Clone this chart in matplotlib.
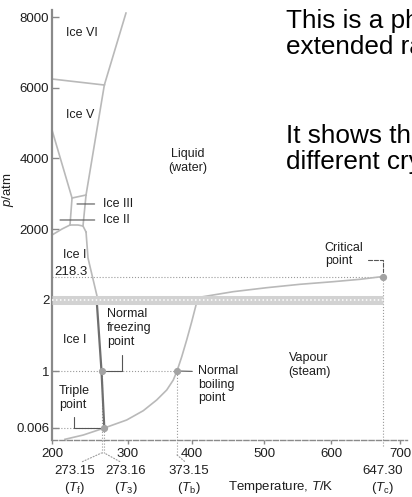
import numpy as np
import matplotlib
matplotlib.use('Agg')
import matplotlib.pyplot as plt

plt.rcParams['font.family'] = ['Liberation Sans', 'DejaVu Sans']
plt.rcParams['mathtext.fontset'] = 'custom'
plt.rcParams['mathtext.rm'] = 'Liberation Sans'
plt.rcParams['mathtext.it'] = 'Liberation Sans:italic'

# schematic (non-linear) axes of the original drawing: value -> offset in px
T_BREAKS = [200, 273.15, 273.16, 300, 373.15, 400, 500, 600, 647.3, 700, 710]
T_OFFSET = [0, 49.5, 52.3, 76, 125, 140, 212, 279, 331, 348, 355]
P_BREAKS = [0, 0.006, 1, 2, 218.3, 2000, 8000, 8200]
P_OFFSET = [0, 12, 69, 140, 163.5, 211, 423, 430]

# phase boundaries, T in K, p in atm
ice6_liquid_T = [273.2, 297.7]
ice6_liquid_p = [6075, 8113]
ice5_ice6_T = [200, 273.2]
ice5_ice6_p = [6245, 6075]
ice5_liquid_T = [273.2, 250.3]
ice5_liquid_p = [6075, 2962]
ice2_ice5_T = [200, 229.6]
ice2_ice5_p = [4802, 2877]
ice3_ice5_T = [229.6, 250.3]
ice3_ice5_p = [2877, 2962]
ice3_liquid_T = [250.3, 245.8]
ice3_liquid_p = [2962, 2085]
ice2_ice3_T = [229.6, 226.6]
ice2_ice3_p = [2877, 2113]
ice1_ice2_T = [200, 214.8, 226.6]
ice1_ice2_p = [1775, 2000, 2113]
ice1_ice3_T = [226.6, 238.4, 245.8, 250.3]
ice1_ice3_p = [2113, 2113, 2085, 1887]
melt_high_T = [250.3, 253.2, 266.5]
melt_high_p = [1887, 912, 38.8]
melt_low_T = [266.5, 273.15, 273.16]
melt_low_p = [1.93, 1.0, 0.006]
vap_low_T = [219.2, 246.3, 273.16, 298.5, 322.8, 342.8, 357.8, 367.6,
             373.15, 381.6, 390.5, 399.5, 405.6]
vap_low_p = [0.00035, 0.0025, 0.006, 0.1455, 0.3077, 0.4943, 0.6687, 0.843,
             1.0, 1.20, 1.437, 1.694, 1.93]
vap_high_T = [415.3, 457.0, 504.0, 553.7, 601.8, 626.4, 647.3]
vap_high_p = [32.4, 78.4, 115.2, 146.5, 170.4, 192.5, 218.3]

T_triple, p_triple = 273.16, 0.006
T_freeze, T_boil, p_normal = 273.15, 373.15, 1.0
T_crit, p_crit = 647.3, 218.3
p_break = 2

x_ticks = [200, 300, 400, 500, 600, 700]
y_ticks = [0.006, 1, 2, 2000, 4000, 6000, 8000]
y_tick_labels = ['0.006', '1', '2', '2000', '4000', '6000', '8000']

regions = [('Ice VI', 244.3, 7547), ('Ice V', 241.4, 5226),
           ('Liquid\n(water)', 392.8, 3924), ('Ice I', 234.0, 1025),
           ('Ice I', 234.0, 1.437), ('Vapour\n(steam)', 567.2, 1.085)]

# slide text next to the picture, as much as the crop shows
slide_lines = ['This is a pha', 'extended ra', 'It shows the', 'different cry']


def fx(t):
    return np.interp(t, T_BREAKS, T_OFFSET)


def ix(v):
    return np.interp(v, T_OFFSET, T_BREAKS)


def fy(p):
    return np.interp(p, P_BREAKS, P_OFFSET)


def iy(v):
    return np.interp(v, P_OFFSET, P_BREAKS)


CURVE = '#b9b9b9'
DARK = '#6e6e6e'
GUIDE = '#9a9a9a'
TXT = '#1e1e1e'
AXC = '#8a8a8a'

fig = plt.figure(figsize=(4.12, 4.97), dpi=100)
ax = fig.add_axes([52 / 412, 57 / 497, 355 / 412, 430 / 497])
ax.set_xscale('function', functions=(fx, ix))
ax.set_yscale('function', functions=(fy, iy))
ax.set_xlim(200, 710)
ax.set_ylim(0, 8200)

for T, p in [(ice6_liquid_T, ice6_liquid_p), (ice5_ice6_T, ice5_ice6_p),
             (ice5_liquid_T, ice5_liquid_p), (ice2_ice5_T, ice2_ice5_p),
             (ice3_ice5_T, ice3_ice5_p), (ice3_liquid_T, ice3_liquid_p),
             (ice2_ice3_T, ice2_ice3_p), (ice1_ice2_T, ice1_ice2_p),
             (ice1_ice3_T, ice1_ice3_p), (melt_high_T, melt_high_p),
             (vap_low_T, vap_low_p), (vap_high_T, vap_high_p)]:
    ax.plot(T, p, color=CURVE, lw=1.2, zorder=2, clip_on=False)
ax.plot(melt_low_T, melt_low_p, color=DARK, lw=1.6, zorder=2)

# axis break band at p = 2
ax.plot([200, T_crit], [p_break, p_break], color='#d2d2d2', lw=6.5,
        solid_capstyle='butt', zorder=3)
ax.plot([200, T_crit], [p_break, p_break], color='white', lw=1.1,
        ls=(0, (1, 1.6)), zorder=4)

# dotted guide lines
kw = dict(color=GUIDE, lw=0.8, ls=':', zorder=1)
ax.plot([200, T_crit], [p_crit, p_crit], **kw)
ax.plot([200, T_boil], [p_normal, p_normal], **kw)
ax.plot([200, T_triple], [p_triple, p_triple], **kw)
for T, p, ext in [(T_freeze, p_normal, 13), (T_triple, p_triple, 13),
                  (T_boil, p_normal, 15), (T_crit, p_crit, 6)]:
    ax.axvline(T, ymin=-ext / 430, ymax=float(fy(p)) / 430, clip_on=False, **kw)

ax.plot([T_triple, T_freeze, T_boil, T_crit],
        [p_triple, p_normal, p_normal, p_crit], 'o', color='#a3a3a3',
        ms=4.2, zorder=5)

for s, T, p in regions:
    ax.text(T, p, s, ha='center', va='center', fontsize=9, color=TXT,
            multialignment='center')

lead = dict(arrowstyle='-', color='#555555', lw=0.8)
ax.annotate('Ice III', xy=(236.9, 2708), xytext=(18.7, 0),
            textcoords='offset points', ha='left', va='center', fontsize=9,
            color=TXT, arrowprops=dict(lead, shrinkA=4, shrinkB=0))
ax.annotate('Ice II', xy=(211.8, 2255), xytext=(31, 0),
            textcoords='offset points', ha='left', va='center', fontsize=9,
            color=TXT, arrowprops=dict(lead, shrinkA=4, shrinkB=0))
ax.annotate('218.3', xy=(200, p_crit), xytext=(1.5, 3.2),
            textcoords='offset points', ha='left', va='center', fontsize=9.5,
            color=TXT)
ax.annotate('Normal\nfreezing\npoint', xy=(T_freeze, p_normal), xytext=(4, 31),
            textcoords='offset points', ha='left', va='center', fontsize=9,
            color=TXT,
            arrowprops=dict(lead, relpos=(0.34, 0), shrinkA=3, shrinkB=3,
                            connectionstyle='angle,angleA=-90,angleB=0,rad=0'))
ax.annotate('Triple\npoint', xy=(T_triple, p_triple), xytext=(-32.6, 21.4),
            textcoords='offset points', ha='left', va='center', fontsize=9,
            color=TXT,
            arrowprops=dict(lead, relpos=(0.48, 0), shrinkA=2, shrinkB=3,
                            connectionstyle='angle,angleA=-90,angleB=0,rad=0'))
ax.annotate('Normal\nboiling\npoint', xy=(T_boil, p_normal), xytext=(15, 4.5),
            textcoords='offset points', ha='left', va='top', fontsize=9,
            color=TXT,
            arrowprops=dict(lead, relpos=(0, 0.83), shrinkA=2, shrinkB=3))
ax.annotate('Critical\npoint', xy=(T_crit, p_crit), xytext=(-28, 15.8),
            textcoords='offset points', ha='center', va='center', fontsize=9,
            color=TXT, multialignment='left',
            arrowprops=dict(lead, ls='--', relpos=(1, 0.27), shrinkA=1,
                            shrinkB=3,
                            connectionstyle='angle,angleA=0,angleB=90,rad=0'))

# temperature labels under the axis
xt = ax.get_xaxis_transform()
for s, T, ext, dx, conn in [
        ('273.15\n($T_{\\rm f}$)', T_freeze, 13, -19.1, True),
        ('273.16\n($T_3$)', T_triple, 13, 15.6, True),
        ('373.15\n($T_{\\rm b}$)', T_boil, 15, 8.6, True),
        ('647.30\n($T_{\\rm c}$)', T_crit, 6, 0, False)]:
    ax.annotate(s, xy=(T, -ext / 430), xycoords=xt,
                xytext=(dx, -(465 - 440 - ext) * 0.72),
                textcoords='offset points', ha='center', va='top',
                fontsize=9.5, color=TXT, linespacing=1.25,
                arrowprops=dict(arrowstyle='-', color=GUIDE, lw=0.8, ls=':',
                                relpos=(0.5, 1), shrinkA=1, shrinkB=0)
                if conn else None, annotation_clip=False)

ax.set_xticks(x_ticks)
ax.set_xticklabels([str(t) for t in x_ticks])
ax.set_yticks(y_ticks)
ax.set_yticklabels(y_tick_labels)
ax.minorticks_off()
ax.tick_params(axis='y', direction='in', length=5, width=1, color=AXC, pad=2,
               labelsize=9.5, labelcolor=TXT)
ax.tick_params(axis='x', direction='out', length=3, width=1, color=AXC,
               pad=2.5, labelsize=9.5, labelcolor=TXT)

for side in ['top', 'right']:
    ax.spines[side].set_visible(False)
ax.spines['left'].set_color(AXC)
ax.spines['left'].set_linewidth(1.6)
ax.spines['bottom'].set_color(AXC)
ax.spines['bottom'].set_linewidth(1.0)
ax.spines['bottom'].set_linestyle('--')

ax.set_ylabel('$p$/atm', fontsize=9.5, color=TXT)
ax.yaxis.set_label_coords(-0.101, 0.581)
ax.set_xlabel('Temperature, $T$/K', fontsize=9.5, color=TXT)
ax.xaxis.set_label_coords(0.645, -0.109)
ax.xaxis.label.set_verticalalignment('center')

# slide text beside the picture (the screenshot cuts it at the right edge)
for line, base in zip(slide_lines, [28, 54, 143, 169]):
    fig.text(286 / 412, 1 - base / 497, line, fontsize=18.8,
             va='baseline', color='black')

fig.savefig('out.png', dpi=100)
